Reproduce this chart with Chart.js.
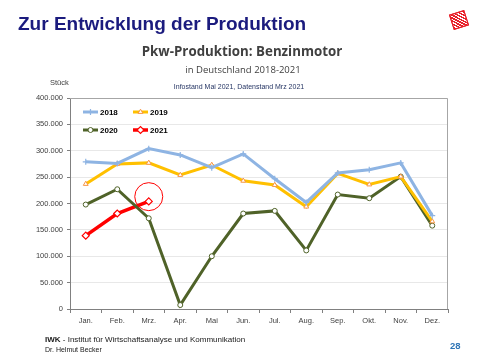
<!DOCTYPE html>
<html><head><meta charset="utf-8">
<script src="https://cdn.jsdelivr.net/npm/chart.js@4/dist/chart.umd.min.js"></script>
<style>
html,body{margin:0;padding:0;background:#fff;width:480px;height:360px;overflow:hidden;font-family:"Liberation Sans",Arial,sans-serif}
#wrap{position:relative;width:480px;height:360px}
canvas{position:absolute;left:0;top:0}
.t{position:absolute;white-space:nowrap;line-height:1}
.c{transform:translateX(-50%)}
#logo{position:absolute;left:451px;top:12px;width:14px;height:14px;transform:rotate(-18deg);
background:repeating-linear-gradient(45deg,#e8202a 0 1.5px,#fff 1.5px 2.6px),#e8202a;border:1px solid #e8202a}
</style></head><body>
<div id="wrap">
<canvas id="c" width="480" height="360"></canvas>
<div class="t" style="left:18px;top:14px;font-size:19px;font-weight:bold;color:#1B1B7E">Zur Entwicklung der Produktion</div>
<div id="logo"></div>
<div class="t c" style="left:242px;top:45px;font-family:'Open Sans',sans-serif;font-size:13.3px;font-weight:bold;color:#404040">Pkw-Produktion: Benzinmotor</div>
<div class="t c" style="left:243px;top:65px;font-family:'Open Sans',sans-serif;font-size:9.5px;color:#404040">in Deutschland 2018-2021</div>
<div class="t c" style="left:239px;top:83px;font-size:7px;color:#1F2F5F">Infostand Mai 2021, Datenstand Mrz 2021</div>
<div class="t" style="left:50px;top:79px;font-size:7.5px;color:#404040">Stück</div>
<div class="t" style="left:45px;top:336px;font-size:8px;color:#202020"><b>IWK</b> - Institut für Wirtschaftsanalyse und Kommunikation</div>
<div class="t" style="left:45px;top:346px;font-size:7px;color:#202020">Dr. Helmut Becker</div>
<div class="t" style="left:450px;top:341px;font-size:9.5px;font-weight:bold;color:#2E75B6">28</div>
</div>
<script>
const months = ['Jan.','Feb.','Mrz.','Apr.','Mai','Jun.','Jul.','Aug.','Sep.','Okt.','Nov.','Dez.'];
const seriesNames = ['2018','2019','2020','2021'];
const y2018 = [279000,276000,304000,292000,268000,294000,247000,202000,258000,264000,277000,177000];
const y2019 = [237000,275000,277000,254000,273000,243000,235000,194000,257000,236000,251000,166000];
const y2020 = [198000,227000,172000,7500,100000,181000,186000,111000,217000,210000,251000,158000];
const y2021 = [139000,181000,204000];
const highlight2021 = [null,null,213000];
const yMin = 0, yMax = 400000, yStep = 50000;

const FONT = '"Liberation Sans", Arial, sans-serif';
function fmt(v){ return v === 0 ? '0' : String(v).replace(/\B(?=(\d{3})+(?!\d))/g,'.'); }

const framePlugin = {
  id:'frame',
  beforeDatasetsDraw(chart){
    const a = chart.chartArea, ctx = chart.ctx;
    ctx.save(); ctx.strokeStyle = '#A6A6A6'; ctx.lineWidth = 1;
    ctx.beginPath();
    ctx.moveTo(a.left, a.top + 0.5); ctx.lineTo(a.right - 0.5, a.top + 0.5); ctx.lineTo(a.right - 0.5, a.bottom);
    ctx.stroke(); ctx.restore();
  }
};
const legendPos = [[83,112],[133,112],[83,130],[133,130]];
const legendPlugin = {
  id:'inlegend',
  afterDatasetsDraw(chart){
    const ctx = chart.ctx;
    chart.data.datasets.forEach((ds,i)=>{
      if(!ds.label || i >= legendPos.length) return;
      const [x,y] = legendPos[i];
      ctx.save();
      ctx.strokeStyle = ds.borderColor; ctx.lineWidth = ds.borderWidth;
      ctx.beginPath(); ctx.moveTo(x,y); ctx.lineTo(x+15,y); ctx.stroke();
      ctx.fillStyle = ds.pointBackgroundColor; ctx.strokeStyle = ds.pointBorderColor; ctx.lineWidth = ds.pointBorderWidth;
      Chart.helpers.drawPoint(ctx,{pointStyle:ds.pointStyle,radius:ds.pointRadius,rotation:0,borderWidth:ds.pointBorderWidth},x+7.5,y);
      ctx.fillStyle = '#000'; ctx.font = 'bold 8px ' + FONT; ctx.textBaseline = 'middle';
      ctx.fillText(ds.label, x+17, y+0.5);
      ctx.restore();
    });
  }
};

new Chart(document.getElementById('c'),{
  type:'line',
  data:{
    labels: months,
    datasets:[
      {label:seriesNames[0],data:y2018,borderColor:'#8EB4E3',borderWidth:3,pointStyle:'cross',pointRadius:3,pointBorderColor:'#8EB4E3',pointBackgroundColor:'#8EB4E3',pointBorderWidth:1.2},
      {label:seriesNames[1],data:y2019,borderColor:'#FFC000',borderWidth:3,pointStyle:'triangle',pointRadius:2.8,pointBorderColor:'#F79646',pointBackgroundColor:'#fff',pointBorderWidth:1},
      {label:seriesNames[2],data:y2020,borderColor:'#4F6228',borderWidth:3,pointStyle:'circle',pointRadius:2.5,pointBorderColor:'#4F6228',pointBackgroundColor:'#fff',pointBorderWidth:1},
      {label:seriesNames[3],data:y2021,borderColor:'#FF0000',borderWidth:3.5,pointStyle:'rectRot',pointRadius:3.5,pointBorderColor:'#FF0000',pointBackgroundColor:'#fff',pointBorderWidth:1.2},
      {label:'',data:highlight2021,showLine:false,pointStyle:'circle',pointRadius:14,pointBorderColor:'#FF0000',pointBackgroundColor:'rgba(0,0,0,0)',pointBorderWidth:1,borderColor:'#FF0000'}
    ]
  },
  options:{
    responsive:false, animation:false, devicePixelRatio:1,
    layout:{padding:{top:98,right:32,left:0,bottom:0}},
    elements:{line:{tension:0}},
    plugins:{legend:{display:false},title:{display:false},tooltip:{enabled:false}},
    scales:{
      x:{
        offset:true,
        grid:{offset:true,drawOnChartArea:false,drawTicks:true,tickLength:4,color:'#808080'},
        border:{color:'#808080',width:1},
        ticks:{font:{size:7.5,family:FONT},color:'#404040',padding:3,maxRotation:0,autoSkip:false},
        afterFit(s){ s.height = 51; }
      },
      y:{
        min:yMin,max:yMax,
        ticks:{stepSize:yStep,callback:v=>fmt(v),font:{size:7.5,family:FONT},color:'#404040',padding:4},
        grid:{color:'#E8E8E8',tickColor:'#808080',tickLength:3},
        border:{color:'#808080',width:1},
        afterFit(s){ s.width = 70; }
      }
    }
  },
  plugins:[framePlugin,legendPlugin]
});
</script>
</body></html>
